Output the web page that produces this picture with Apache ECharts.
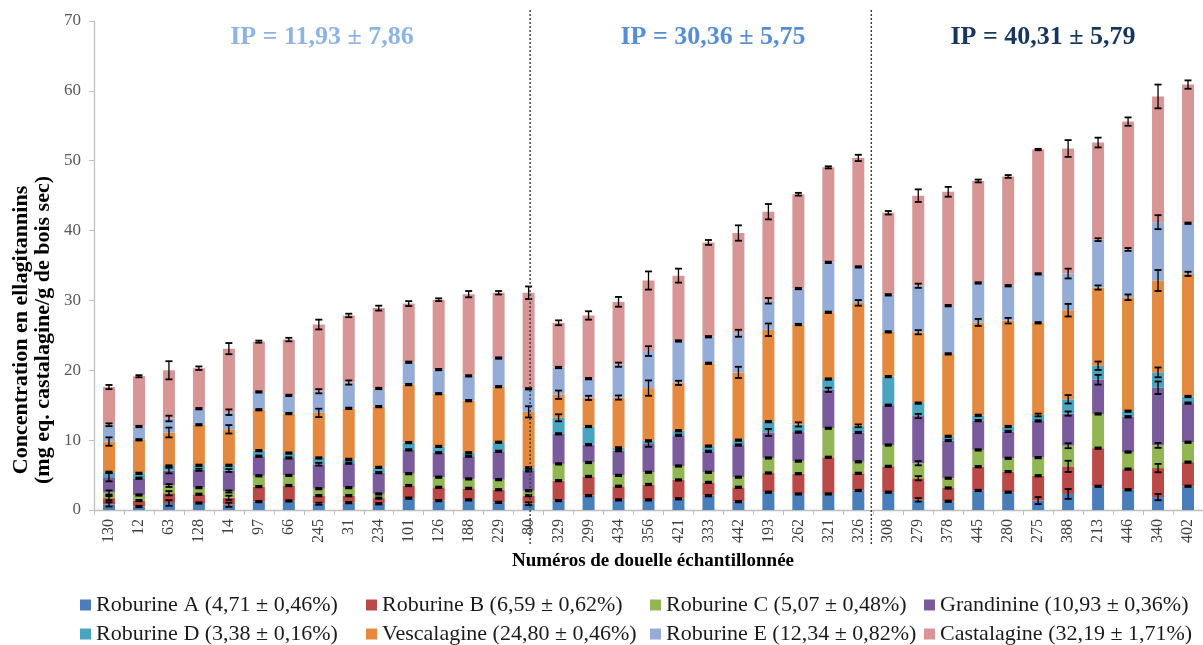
<!DOCTYPE html>
<html>
<head>
<meta charset="utf-8">
<script src="https://cdn.jsdelivr.net/npm/echarts@6/dist/echarts.min.js"></script>
<style>
  html, body { margin: 0; padding: 0; background: #ffffff; }
  #chart { width: 1203px; height: 645px; }
</style>
</head>
<body>
<div id="chart"></div>
<script>
// Sampled staves (x-axis categories)
const douelles = ['130','12','63','128','14','97','66','245','31','234','101','126','188','229','80',
  '329','299','434','356','421','333','442','193','262','321','326',
  '308','279','378','445','280','275','388','213','446','340','402'];

// Ellagitannin concentrations (mg eq. castalagine / g dry wood), stacked bottom to top
const roburineA = [0.8,0.5,1.0,1.0,0.75,1.2,1.3,0.9,1.05,0.9,1.7,1.35,1.45,1.1,0.9,
  1.35,2.05,1.45,1.45,1.6,2.05,1.2,2.55,2.3,2.3,2.8,
  2.55,1.45,1.25,2.8,2.55,1.35,2.3,3.4,2.9,1.85,3.4];
const roburineB = [0.9,0.85,1.4,1.25,1.0,2.15,2.2,1.15,1.0,0.8,1.8,1.9,1.65,1.8,1.15,
  2.85,2.75,1.95,2.2,2.7,1.9,2.05,2.75,2.9,5.25,2.45,
  3.7,3.1,1.9,3.4,2.95,3.55,3.95,5.45,2.95,4.15,3.45];
const roburineC = [0.8,0.8,1.1,0.95,0.9,1.55,1.45,1.0,1.15,0.6,1.7,1.45,1.35,1.45,0.7,
  2.4,2.0,1.55,1.75,2.0,1.45,1.45,2.15,1.8,4.15,1.65,
  3.05,2.15,1.4,2.4,1.9,2.6,2.95,4.9,2.45,3.25,2.85];
const grandinine = [2.2,2.4,2.15,2.55,3.0,2.8,2.5,3.5,3.5,3.05,3.4,3.5,3.25,4.05,2.85,
  4.3,2.55,3.55,4.05,4.4,3.0,4.6,3.65,4.15,5.5,4.2,
  5.7,6.75,5.4,4.2,3.85,5.25,4.6,4.9,5.05,8.25,5.6];
const roburineD = [0.7,0.7,0.65,0.65,0.75,0.8,0.7,0.9,0.55,0.75,1.05,0.9,0.5,1.3,0.45,
  2.3,2.6,0.4,0.45,0.65,0.75,0.7,1.55,1.1,1.55,0.95,
  4.1,1.85,0.6,0.75,0.7,0.85,2.05,2.0,0.8,2.2,0.95];
const vescalagine = [4.4,4.8,4.8,5.8,5.15,5.85,5.65,6.45,7.3,8.7,8.3,7.55,7.45,7.95,8.0,
  3.3,4.1,7.2,7.55,6.85,11.85,9.7,13.15,14.3,9.55,17.6,
  6.4,10.15,11.8,13.3,15.15,13.2,12.75,11.2,16.3,13.15,17.55];
const roburineE = [2.4,1.9,2.0,2.3,2.45,2.55,2.6,3.1,3.7,2.6,3.2,3.45,3.55,4.1,3.3,
  3.9,2.75,4.7,5.3,6.0,3.8,5.6,4.15,5.15,7.15,5.15,
  5.3,6.65,6.9,5.65,5.0,7.0,5.25,6.85,6.85,8.35,7.25];
const castalagine = [5.4,7.2,6.9,5.8,9.1,7.2,8.0,9.55,9.6,11.5,8.4,10.0,11.7,9.35,13.75,
  6.4,9.05,9.0,10.1,9.35,13.5,14.35,12.75,13.5,13.6,15.6,
  11.75,12.9,16.3,14.6,15.65,17.8,17.9,13.9,18.3,18.0,19.85];

// Standard deviations drawn as error bars on each stacked segment
const errA = [0.3,0.1,0.4,0.1,0.3,0.1,0.1,0.15,0.1,0.1,0.1,0.1,0.1,0.1,0.2,
  0.1,0.1,0.1,0.1,0.1,0.1,0.1,0.1,0.1,0.1,0.1,
  0.1,0.25,0.1,0.1,0.1,0.5,0.7,0.1,0.1,0.45,0.1];
const errB = [0.3,0.1,0.3,0.1,0.3,0.1,0.1,0.1,0.1,0.1,0.1,0.1,0.1,0.1,0.1,
  0.1,0.1,0.1,0.1,0.1,0.1,0.1,0.1,0.1,0.1,0.1,
  0.1,0.3,0.1,0.1,0.1,0.1,0.8,0.1,0.1,0.6,0.1];
const errC = [0.3,0.1,0.2,0.1,0.15,0.1,0.1,0.1,0.1,0.1,0.1,0.1,0.1,0.1,0.1,
  0.1,0.1,0.1,0.1,0.1,0.1,0.1,0.1,0.1,0.1,0.1,
  0.1,0.3,0.1,0.1,0.1,0.1,0.35,0.1,0.1,0.35,0.1];
const errG = [0.6,0.1,0.4,0.15,0.2,0.1,0.1,0.2,0.1,0.1,0.1,0.1,0.1,0.1,0.1,
  0.1,0.1,0.1,0.4,0.1,0.1,0.1,0.5,0.1,0.3,0.1,
  0.1,0.3,0.1,0.1,0.1,0.1,0.3,0.7,0.1,0.9,0.1];
const errD = [0.1,0.1,0.1,0.1,0.1,0.1,0.1,0.1,0.1,0.1,0.1,0.1,0.1,0.1,0.1,
  0.5,0.1,0.1,0.1,0.1,0.1,0.1,0.1,0.3,0.1,0.2,
  0.1,0.1,0.1,0.1,0.1,0.2,0.6,0.6,0.1,0.7,0.1];
const errV = [0.6,0.1,0.7,0.1,0.6,0.1,0.1,0.6,0.1,0.1,0.1,0.1,0.1,0.1,0.8,
  0.6,0.3,0.3,1.1,0.3,0.1,0.8,0.9,0.1,0.1,0.4,
  0.1,0.3,0.1,0.5,0.4,0.1,0.9,0.3,0.4,1.5,0.3];
const errE = [0.2,0.1,0.4,0.1,0.4,0.1,0.1,0.3,0.3,0.1,0.1,0.1,0.1,0.1,0.1,
  0.1,0.1,0.3,0.7,0.1,0.1,0.5,0.4,0.1,0.1,0.1,
  0.1,0.3,0.1,0.1,0.1,0.1,0.7,0.2,0.2,1.0,0.1];
const errCa = [0.3,0.15,1.3,0.25,0.8,0.15,0.25,0.7,0.25,0.35,0.35,0.2,0.45,0.25,0.9,
  0.35,0.6,0.7,1.3,1.0,0.35,1.1,1.1,0.2,0.15,0.45,
  0.25,0.9,0.7,0.2,0.2,0.1,1.2,0.7,0.6,1.7,0.6];

// Legend labels (mean proportion ± sd)
const seriesNames = [
  'Roburine A (4,71 ± 0,46%)', 'Roburine B (6,59 ± 0,62%)', 'Roburine C (5,07 ± 0,48%)', 'Grandinine (10,93 ± 0,36%)',
  'Roburine D (3,38 ± 0,16%)', 'Vescalagine (24,80 ± 0,46%)', 'Roburine E (12,34 ± 0,82%)', 'Castalagine (32,19 ± 1,71%)'
];
const ipLabels = ['IP = 11,93 ± 7,86', 'IP = 30,36 ± 5,75', 'IP = 40,31 ± 5,79'];
const yTitle = 'Concentration en ellagitannins\n(mg eq. castalagine/g de bois sec)';
const xTitle = 'Numéros de douelle échantillonnée';

const values = [roburineA, roburineB, roburineC, grandinine, roburineD, vescalagine, roburineE, castalagine];
const errors = [errA, errB, errC, errG, errD, errV, errE, errCa];
const colors = ['#4A7EBB', '#BA4A47', '#93B655', '#7A5C9C', '#4AA3BF', '#E38A40', '#95ADD6', '#D79595'];

const SERIF = 'Liberation Serif, Times New Roman, serif';

// Error-bar rows: [category, top1, err1, top2, err2, ...] with tops from the running stack sum
const errorRows = douelles.map((_, i) => {
  const row = [i];
  let cum = 0;
  for (let s = 0; s < values.length; s++) {
    cum += values[s][i];
    row.push(cum, errors[s][i]);
  }
  return row;
});

const barSeries = values.map((arr, s) => ({
  name: seriesNames[s],
  type: 'bar',
  stack: 'total',
  barWidth: 12,
  data: arr,
  itemStyle: { color: colors[s] },
  emphasis: { disabled: true },
  z: 2
}));

const errorSeries = {
  type: 'custom',
  data: errorRows,
  z: 5,
  silent: true,
  encode: { x: 0, y: [1] },
  renderItem(params, api) {
    const i = api.value(0);
    const children = [];
    const cap = 3.5;
    for (let s = 0; s < values.length; s++) {
      const top = api.value(1 + 2 * s);
      const err = api.value(2 + 2 * s);
      const hi = api.coord([i, top + err]);
      const lo = api.coord([i, top - err]);
      const x = hi[0];
      const st = { stroke: '#000', lineWidth: 1.3 };
      const cst = { stroke: '#000', lineWidth: 1.8 };
      children.push({ type: 'line', shape: { x1: x, y1: hi[1], x2: x, y2: lo[1] }, style: st });
      children.push({ type: 'line', shape: { x1: x - cap, y1: hi[1], x2: x + cap, y2: hi[1] }, style: cst });
      children.push({ type: 'line', shape: { x1: x - cap, y1: lo[1], x2: x + cap, y2: lo[1] }, style: cst });
    }
    return { type: 'group', children };
  }
};

// One legend block per entry, laid out as a 4 x 2 table
const legendCols = [80, 366, 650, 924];
const legendRows = [594, 623];
const legends = seriesNames.map((name, k) => ({
  data: [name],
  left: legendCols[k % 4],
  top: legendRows[Math.floor(k / 4)],
  padding: 0,
  itemWidth: 11,
  itemHeight: 11,
  icon: 'rect',
  textStyle: { fontFamily: SERIF, fontSize: 22, color: '#1a1a1a', lineHeight: 22 }
}));

const chart = echarts.init(document.getElementById('chart'), null, { renderer: 'canvas' });

chart.setOption({
  animation: false,
  backgroundColor: '#ffffff',
  grid: { left: 94, top: 21, width: 1118, height: 489, containLabel: false },
  legend: legends,
  xAxis: {
    type: 'category',
    data: douelles,
    axisLine: { lineStyle: { color: '#BFBFBF', width: 1.3 } },
    axisTick: { show: true, length: 5, interval: 0, lineStyle: { color: '#BFBFBF' } },
    axisLabel: {
      interval: 0, rotate: 90, margin: 9,
      fontFamily: SERIF, fontSize: 16, color: '#404040'
    }
  },
  yAxis: {
    type: 'value',
    min: 0, max: 70, interval: 10,
    splitLine: { show: false },
    axisLine: { show: true, lineStyle: { color: '#BFBFBF', width: 1.3 } },
    axisTick: { show: true, length: 5, lineStyle: { color: '#BFBFBF' } },
    axisLabel: { margin: 13, fontFamily: SERIF, fontSize: 17, color: '#595959' }
  },
  series: [...barSeries, errorSeries]
});

// Group dividers, group labels and axis titles
const xa = chart.convertToPixel({ xAxisIndex: 0 }, '80');
const xb = (chart.convertToPixel({ xAxisIndex: 0 }, '326') + chart.convertToPixel({ xAxisIndex: 0 }, '308')) / 2;
const dividerStyle = { stroke: '#404040', lineWidth: 1.5, lineDash: [2, 2] };

chart.setOption({
  graphic: [
    { type: 'line', z: 50, shape: { x1: xa + 1.5, y1: 10, x2: xa + 1.5, y2: 545 }, style: dividerStyle },
    { type: 'line', z: 50, shape: { x1: xb - 2, y1: 10, x2: xb - 2, y2: 545 }, style: dividerStyle },
    { type: 'text', x: 322, y: 37, style: { text: ipLabels[0], fill: '#8DB4E2', font: 'bold 26px ' + SERIF, align: 'center', verticalAlign: 'middle' } },
    { type: 'text', x: 713, y: 37, style: { text: ipLabels[1], fill: '#558ED5', font: 'bold 26px ' + SERIF, align: 'center', verticalAlign: 'middle' } },
    { type: 'text', x: 1043, y: 37, style: { text: ipLabels[2], fill: '#17365D', font: 'bold 26px ' + SERIF, align: 'center', verticalAlign: 'middle' } },
    { type: 'text', x: 653, y: 561, style: { text: xTitle, fill: '#000', font: 'bold 19px ' + SERIF, align: 'center', verticalAlign: 'middle' } },
    { type: 'text', x: 32, y: 330, rotation: Math.PI / 2,
      style: { text: yTitle, fill: '#000', font: 'bold 22px ' + SERIF, align: 'center', verticalAlign: 'middle', lineHeight: 22 } }
  ]
});
</script>
</body>
</html>
